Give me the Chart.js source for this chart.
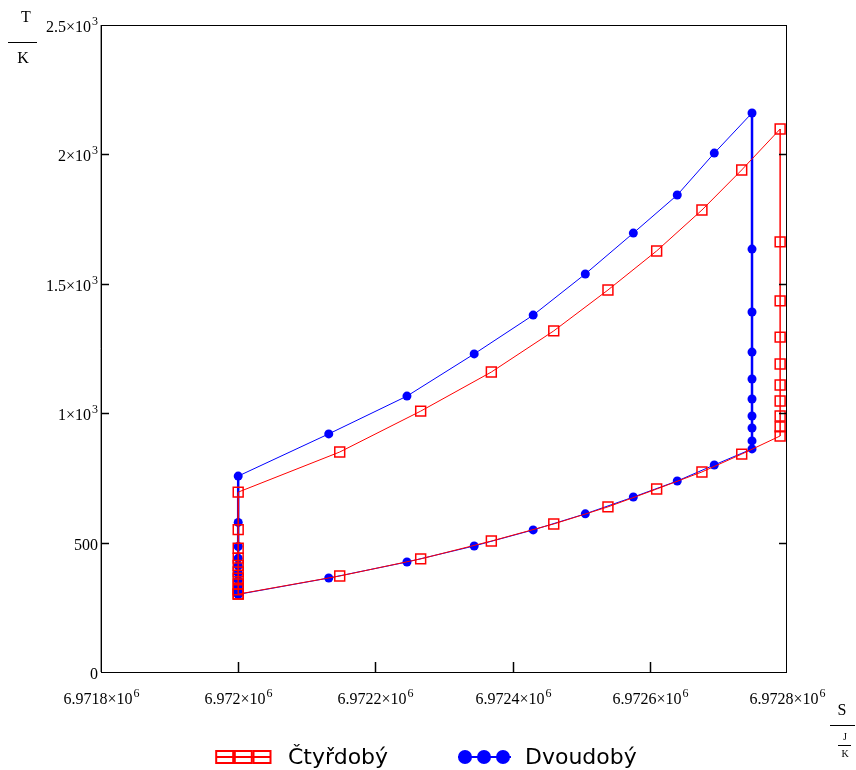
<!DOCTYPE html>
<html>
<head>
<meta charset="utf-8">
<script src="https://cdn.jsdelivr.net/npm/chart.js@4/dist/chart.umd.min.js"></script>
<style>
  html, body { margin: 0; padding: 0; background: #fff; }
</style>
</head>
<body>
<canvas id="chart" width="856" height="770"></canvas>
<script>
// Čtyřdobý (red) - compression curve, heating column, expansion curve, cooling column
const redLowS  = [6972000, 6972148, 6972266, 6972369, 6972460, 6972539, 6972610, 6972676, 6972734, 6972790];
const redLowT  = [301, 371, 437, 506, 572, 638, 707, 773, 842, 912];
const redRightT = [947, 989, 1047, 1109, 1190, 1294, 1434, 1662];
const redHighT = [695, 850, 1008, 1159, 1318, 1476, 1627, 1785, 1940, 2098];
const redLeftT = [550, 478, 440, 412, 387, 362, 340, 318];

// Dvoudobý (blue)
const blueLowS  = [6972000, 6972132, 6972246, 6972344, 6972430, 6972506, 6972576, 6972640, 6972694, 6972749];
const blueLowT  = [300, 363, 425, 487, 549, 611, 676, 738, 800, 862];
const blueRightT = [893, 943, 989, 1055, 1132, 1236, 1391, 1634];
const blueHighT = [757, 920, 1066, 1229, 1379, 1538, 1696, 1843, 2005, 2160];
const blueLeftT = [578, 485, 440, 410, 382, 355, 330, 312];

// tick labels: [mantissa, exponent]
const xTickLabels = [['6.9718×10', '6'], ['6.972×10', '6'], ['6.9722×10', '6'], ['6.9724×10', '6'], ['6.9726×10', '6'], ['6.9728×10', '6']];
const yTickLabels = [['0', ''], ['500', ''], ['1×10', '3'], ['1.5×10', '3'], ['2×10', '3'], ['2.5×10', '3']];

const seriesNames = ['Čtyřdobý', 'Dvoudobý'];

function buildLoop(lowS, lowT, rightT, highT, leftT) {
  const pts = [];
  lowS.forEach((s, i) => pts.push({x: s, y: lowT[i]}));
  const sMax = lowS[lowS.length - 1], sMin = lowS[0];
  rightT.forEach(t => pts.push({x: sMax, y: t}));
  for (let i = lowS.length - 1; i >= 0; i--) pts.push({x: lowS[i], y: highT[i]});
  leftT.forEach(t => pts.push({x: sMin, y: t}));
  pts.push({x: sMin, y: lowT[0]});
  return pts;
}

const RED = '#ff0000', BLUE = '#0000ff';
const serif = '"Liberation Serif", "Times New Roman", serif';

// draw "mantissa" + raised exponent; align = 'center' | 'right'
function sciLabel(c, lbl, x, baseline, align) {
  c.font = '16px ' + serif;
  const w1 = c.measureText(lbl[0]).width;
  c.font = '12px ' + serif;
  const w2 = lbl[1] ? c.measureText(lbl[1]).width + 1 : 0;
  const total = w1 + w2;
  const x0 = align === 'center' ? x - total / 2 : x - total;
  c.textAlign = 'left';
  c.textBaseline = 'alphabetic';
  c.font = '16px ' + serif;
  c.fillText(lbl[0], x0, baseline);
  if (lbl[1]) {
    c.font = '12px ' + serif;
    c.fillText(lbl[1], x0 + w1 + 1, baseline - 7);
  }
}

const overlay = {
  id: 'overlay',
  afterDraw(chart) {
    const c = chart.ctx, a = chart.chartArea;
    const xs = chart.scales.x, ys = chart.scales.y;
    c.save();
    // frame
    c.strokeStyle = '#000';
    c.lineWidth = 1;
    c.strokeRect(a.left + 0.5, a.top + 0.5, a.right - a.left - 1, a.bottom - a.top);
    c.strokeStyle = '#999';
    c.beginPath(); c.moveTo(a.left - 0.5, a.top); c.lineTo(a.left - 0.5, a.bottom); c.stroke();
    // inner ticks + labels
    c.strokeStyle = '#000';
    c.fillStyle = '#000';
    c.lineWidth = 1.5;
    xs.ticks.forEach((t, i) => {
      const px = Math.round(xs.getPixelForValue(t.value)) + 0.5;
      if (i > 0 && i < xs.ticks.length - 1) {
        c.beginPath(); c.moveTo(px, a.bottom); c.lineTo(px, a.bottom - 10); c.stroke();
      }
      sciLabel(c, xTickLabels[i], px, a.bottom + 32, 'center');
    });
    ys.ticks.forEach((t, i) => {
      const py = Math.round(ys.getPixelForValue(t.value)) + 0.5;
      if (i > 0 && i < ys.ticks.length - 1) {
        c.beginPath(); c.moveTo(a.left, py); c.lineTo(a.left + 8, py); c.stroke();
        c.beginPath(); c.moveTo(a.right, py); c.lineTo(a.right - 8, py); c.stroke();
      }
      sciLabel(c, yTickLabels[i], a.left - 3, py + 6, 'right');
    });

    // axis titles
    c.strokeStyle = '#000';
    c.lineWidth = 1;
    c.font = '16px ' + serif;
    c.textAlign = 'center';
    c.textBaseline = 'middle';
    c.fillText('T', 26, 18);
    c.beginPath(); c.moveTo(8, 42.5); c.lineTo(37, 42.5); c.stroke();
    c.fillText('K', 23, 59);

    c.fillText('S', 842, 711);
    c.beginPath(); c.moveTo(830, 725.5); c.lineTo(855, 725.5); c.stroke();
    c.font = '10px ' + serif;
    c.fillText('J', 845, 737);
    c.beginPath(); c.moveTo(838, 745.5); c.lineTo(851, 745.5); c.stroke();
    c.fillText('K', 845, 754);

    // legend
    const ly = 757;
    c.strokeStyle = RED;
    c.lineWidth = 2;
    c.beginPath(); c.moveTo(216, ly); c.lineTo(271, ly); c.stroke();
    [224.7, 243.3, 262].forEach(cx => c.strokeRect(cx - 8.5, ly - 6, 17, 12));
    c.strokeStyle = BLUE;
    c.beginPath(); c.moveTo(458, ly); c.lineTo(511, ly); c.stroke();
    c.fillStyle = BLUE;
    [465, 484, 503].forEach(cx => { c.beginPath(); c.arc(cx, ly, 7, 0, Math.PI * 2); c.fill(); });
    c.fillStyle = '#000';
    c.font = '22px "DejaVu Sans", sans-serif';
    c.textAlign = 'left';
    c.textBaseline = 'alphabetic';
    c.fillText(seriesNames[0], 288, 764);
    c.fillText(seriesNames[1], 525, 764);
    c.restore();
  }
};

const vertWidth = w => ({
  borderWidth: ctx => ctx.p0.parsed.x === ctx.p1.parsed.x ? w : 1
});

new Chart(document.getElementById('chart').getContext('2d'), {
  type: 'scatter',
  data: {
    datasets: [
      {
        label: seriesNames[0],
        data: buildLoop(redLowS, redLowT, redRightT, redHighT, redLeftT),
        showLine: true,
        borderColor: RED,
        borderWidth: 1,
        backgroundColor: 'rgba(0,0,0,0)',
        pointStyle: 'rect',
        pointRadius: 7,
        pointBorderWidth: 1.5,
        pointBorderColor: RED,
        pointBackgroundColor: 'rgba(0,0,0,0)',
        segment: vertWidth(1.5)
      },
      {
        label: seriesNames[1],
        data: buildLoop(blueLowS, blueLowT, blueRightT, blueHighT, blueLeftT),
        showLine: true,
        borderColor: BLUE,
        borderWidth: 1,
        backgroundColor: BLUE,
        pointStyle: 'circle',
        pointRadius: 4.5,
        pointBorderWidth: 0,
        pointBackgroundColor: BLUE,
        segment: vertWidth(2.5)
      }
    ]
  },
  options: {
    responsive: false,
    animation: false,
    layout: { padding: { top: 25, right: 69, left: 0, bottom: 0 } },
    plugins: { legend: { display: false }, tooltip: { enabled: false } },
    scales: {
      x: {
        type: 'linear',
        min: 6971800, max: 6972800,
        grid: { display: false, drawTicks: false },
        border: { display: false },
        afterFit: s => { s.height = 98; },
        ticks: { stepSize: 200, display: false }
      },
      y: {
        type: 'linear',
        min: 0, max: 2500,
        grid: { display: false, drawTicks: false },
        border: { display: false },
        afterFit: s => { s.width = 101; },
        ticks: { stepSize: 500, display: false }
      }
    }
  },
  plugins: [overlay]
});
</script>
</body>
</html>
